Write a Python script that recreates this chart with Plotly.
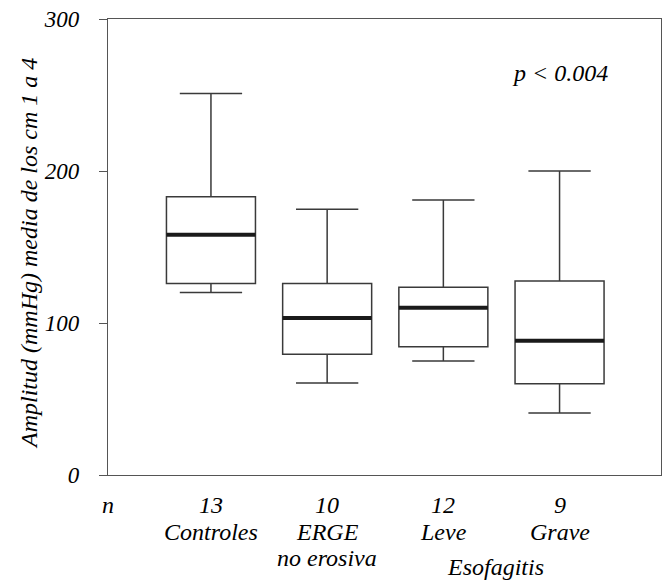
import plotly.graph_objects as go

categories = ["Controles", "ERGE", "Leve", "Grave"]
n_values = ["13", "10", "12", "9"]
lower_whisker = [120, 60.5, 75, 40.8]
q1_values = [126, 79.4, 84.4, 60]
median_values = [158, 103.3, 110, 88.4]
q3_values = [183, 126, 123.5, 127.6]
upper_whisker = [251, 174.8, 181, 200]
y_ticks = [0, 100, 200, 300]

positions = list(range(len(categories)))
box_w = 0.766

FONT = "Liberation Serif"
AFONT = dict(family=FONT, size=24, color="black", style="italic")
fig = go.Figure()
fig.add_trace(go.Box(
    x=positions, q1=q1_values, median=median_values, q3=q3_values,
    lowerfence=lower_whisker, upperfence=upper_whisker,
    width=box_w, whiskerwidth=0.7,
    fillcolor="white", line=dict(color="#3a3a3a", width=1.5),
    boxpoints=False, showlegend=False, hoverinfo="skip",
))
for p, m in zip(positions, median_values):
    fig.add_trace(go.Scatter(
        x=[p - box_w / 2, p + box_w / 2], y=[m, m], mode="lines",
        line=dict(color="#1a1a1a", width=4), showlegend=False, hoverinfo="skip",
    ))

fig.update_layout(
    width=662, height=581,
    margin=dict(l=108, r=1, t=19, b=106),
    paper_bgcolor="white", plot_bgcolor="white",
    font=dict(family=FONT, size=24, color="black", style="italic"),
    xaxis=dict(range=[-0.886, 3.873], showticklabels=False, ticks="",
               showgrid=False, zeroline=False, showline=True, mirror=True,
               linecolor="#555", linewidth=1.2),
    yaxis=dict(range=[0, 300], tickvals=y_ticks, ticks="outside", ticklen=8,
               tickcolor="#555", tickwidth=1.2, ticklabelstandoff=15,
               tickfont=dict(family=FONT, size=23, color="black", style="italic"),
               showgrid=False, zeroline=False, showline=True, mirror=True,
               linecolor="#555", linewidth=1.2),
)

def ypaper(px):
    return (475 - px) / 456

ann = []
ann.append(dict(x=0, y=ypaper(505), xref="paper", yref="paper", text="n",
                showarrow=False, xanchor="center", yanchor="middle"))
for p, nv in zip(positions, n_values):
    ann.append(dict(x=p, y=ypaper(505), xref="x", yref="paper", text=nv,
                    showarrow=False, xanchor="center", yanchor="middle"))
for p, c in zip(positions, categories):
    ann.append(dict(x=p, y=ypaper(532), xref="x", yref="paper", text=c,
                    showarrow=False, xanchor="center", yanchor="middle"))
ann.append(dict(x=1, y=ypaper(558), xref="x", yref="paper", text="no erosiva",
                showarrow=False, xanchor="center", yanchor="middle"))
ann.append(dict(x=2.45, y=ypaper(567), xref="x", yref="paper", text="Esofagitis",
                showarrow=False, xanchor="center", yanchor="middle"))
ann.append(dict(x=3.0, y=ypaper(73), xref="x", yref="paper", text="p &lt; 0.004",
                showarrow=False, xanchor="center", yanchor="middle"))
ann.append(dict(x=(29 - 108) / 553, y=ypaper(254), xref="paper", yref="paper",
                text="Amplitud (mmHg) media de los cm 1 a 4", textangle=-90,
                showarrow=False, xanchor="center", yanchor="middle"))
for a in ann:
    a["font"] = AFONT
fig.update_layout(annotations=ann)

fig.write_html("out.html", config={"displayModeBar": False})
with open("out.html", encoding="utf-8") as f:
    html = f.read()
css = ("<style>html,body{margin:0;padding:0;}"
       "svg text{font-family:'Liberation Serif','Times New Roman',serif !important;"
       "font-style:italic !important;}</style>")
html = html.replace("</head>", css + "</head>", 1)
with open("out.html", "w", encoding="utf-8") as f:
    f.write(html)
